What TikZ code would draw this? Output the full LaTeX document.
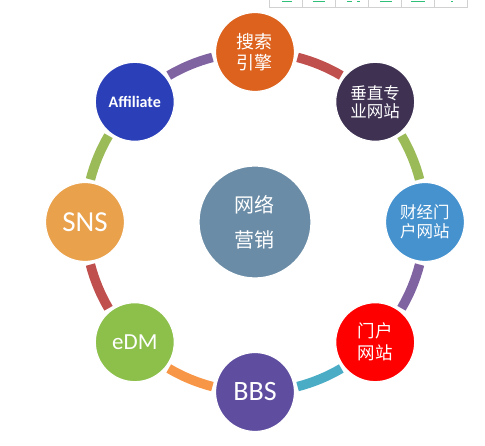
\documentclass[tikz,border=0pt]{standalone}
\usepackage{fontspec}
\usepackage{xcolor}
\usepackage{tikz}
\usetikzlibrary{calc}
\newfontfamily\cjkfont{Noto Sans CJK SC}
\newfontfamily\latinfont{Carlito}
\definecolor{hubblue}{HTML}{6A8CA6}
\definecolor{searchorange}{HTML}{DC621E}
\definecolor{verticalplum}{HTML}{3E3152}
\definecolor{financeblue}{HTML}{4592CF}
\definecolor{portalred}{HTML}{FF0000}
\definecolor{bbsviolet}{HTML}{5F4EA0}
\definecolor{edmgreen}{HTML}{8CC04B}
\definecolor{snsorange}{HTML}{E9A14C}
\definecolor{affblue}{HTML}{2B40B8}
\definecolor{ringrose}{HTML}{C0504D}
\definecolor{ringgreen}{HTML}{9BBB59}
\definecolor{ringpurple}{HTML}{8064A2}
\definecolor{ringorange}{HTML}{F79646}
\definecolor{ringteal}{HTML}{4BACC6}
\definecolor{toolgreen}{HTML}{2FBF78}

\begin{document}
\begin{tikzpicture}[x=1pt,y=1pt,
    ball/.style={circle,draw=white,line width=1.2pt,minimum size=79pt,inner sep=0pt,text=white,align=center}]
    \useasboundingbox (-255,-224) rectangle (230,222);
    % toolbar fragment at the top edge
    \draw[black!18,line width=0.8pt] (14,222) -- (14,214.5) -- (212,214.5) -- (212,222);
    \foreach \i in {1,...,5}
      \draw[black!18,line width=0.8pt] ({14+33*\i},222) -- ({14+33*\i},214.5);
    \foreach \xa/\xb in {27/37,58/70,92/97,102/105,125/137,156/170,196/198}
      \draw[toolgreen,line width=1.4pt] (\xa,220.5) -- (\xb,220.5);
    \node[ball,minimum size=112pt,fill=hubblue,font=\cjkfont\fontsize{20}{35}\selectfont] (hub) at (0,0) {网络\\营销};
    % ring segments
    \foreach \a/\col in {0/ringgreen,45/ringrose,90/ringpurple,135/ringgreen,180/ringrose,225/ringorange,270/ringteal,315/ringpurple}
      \draw[\col,line width=9.5pt] (hub.center) ++({\a+14.5}:170) arc[start angle=\a+14.5,end angle=\a+30.5,radius=170];
    \node[ball,fill=searchorange,font=\cjkfont\fontsize{18}{21}\selectfont] (search) at (90:170) {搜索\\引擎};
    \node[ball,fill=verticalplum,font=\cjkfont\fontsize{16.5}{18}\selectfont] (vertical) at (45:170) {垂直专\\业网站};
    \node[ball,fill=financeblue,font=\cjkfont\fontsize{16.5}{19}\selectfont] (finance) at (0:170) {财经门\\户网站};
    \node[ball,fill=portalred,font=\cjkfont\fontsize{17.5}{22}\selectfont] (portal) at (-45:170) {门户\\网站};
    \node[ball,fill=bbsviolet,font=\latinfont\fontsize{28}{30}\selectfont] (bbs) at (-90:170) {BBS};
    \node[ball,fill=edmgreen,font=\latinfont\fontsize{23}{25}\selectfont] (edm) at (-135:170) {eDM};
    \node[ball,fill=snsorange,font=\latinfont\fontsize{29}{31}\selectfont] (sns) at (180:170) {SNS};
    \node[ball,fill=affblue,font=\latinfont\bfseries\fontsize{16}{18}\selectfont] (aff) at (135:170) {Affiliate};
  \end{tikzpicture}
\end{document}
